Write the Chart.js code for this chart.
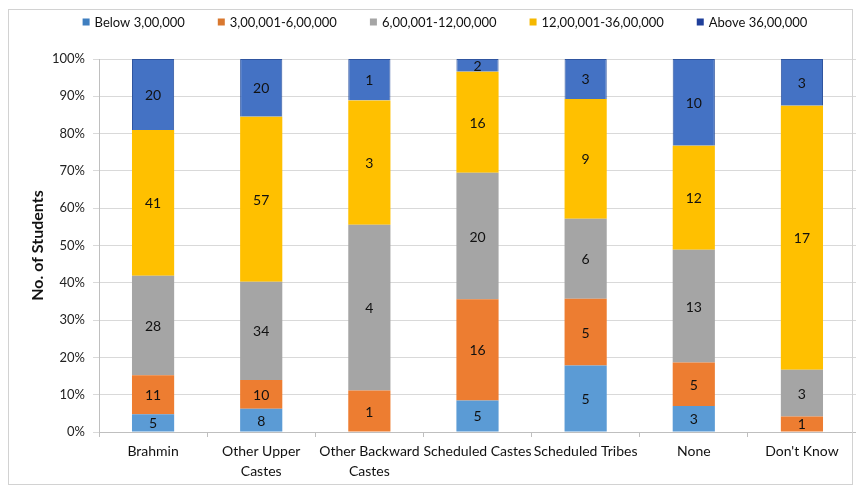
<!DOCTYPE html>
<html>
<head>
<meta charset="utf-8">
<script src="https://cdn.jsdelivr.net/npm/chart.js@4/dist/chart.umd.min.js"></script>
<style>
  html, body { margin: 0; padding: 0; background: #fff; }
  #wrap { position: relative; width: 856px; height: 489px; }
  #frame { position: absolute; left: 8px; top: 9px; width: 845px; height: 476px;
           border: 1px solid #d2d2d2; box-sizing: border-box; pointer-events: none; }
</style>
</head>
<body>
<div id="wrap">
  <canvas id="c" width="856" height="489"></canvas>
  <div id="frame"></div>
</div>
<script>
// Caste groups on the x axis (multi-line labels as arrays)
const categories = [
  ['Brahmin'],
  ['Other Upper', 'Castes'],
  ['Other Backward', 'Castes'],
  ['Scheduled Castes'],
  ['Scheduled Tribes'],
  ['None'],
  ["Don't Know"]
];

// Family income brackets
const seriesNames = ['Below 3,00,000', '3,00,001-6,00,000', '6,00,001-12,00,000', '12,00,001-36,00,000', 'Above 36,00,000'];

// Number of students in each income bracket, per caste group
const below3L     = [5, 8, 0, 5, 5, 3, 0];
const from3to6L   = [11, 10, 1, 16, 5, 5, 1];
const from6to12L  = [28, 34, 4, 20, 6, 13, 3];
const from12to36L = [41, 57, 3, 16, 9, 12, 17];
const above36L    = [20, 20, 1, 2, 3, 10, 3];

// Percentage axis ticks
const yTickValues = [0, 10, 20, 30, 40, 50, 60, 70, 80, 90, 100];

const seriesCounts = [below3L, from3to6L, from6to12L, from12to36L, above36L];
const fillColors   = ['#5b9bd5', '#ed7d31', '#a5a5a5', '#ffc000', '#4472c4'];
const edgeColors   = ['#5b9bd5', '#ed7d31', '#a5a5a5', '#ffc000', '#2f55a0'];
const legendColors = ['#3f7fc0', '#d9782f', '#a5a5a5', '#f5b800', '#1f3f9a'];

// Each bar is scaled to 100% of its group's students
const groupTotals = categories.map((_, j) => seriesCounts.reduce((s, arr) => s + arr[j], 0));

const datasets = seriesNames.map((name, i) => ({
  label: name,
  counts: seriesCounts[i],
  data: seriesCounts[i].map((v, j) => v / groupTotals[j] * 100),
  backgroundColor: fillColors[i],
  borderColor: edgeColors[i],
  borderWidth: i === 4 ? 1 : 0,
  barPercentage: 0.39,
  categoryPercentage: 1.0
}));

const FONT = 'Lato, "Open Sans", sans-serif';

// Writes the student count in the middle of each segment
const segmentLabels = {
  id: 'segmentLabels',
  afterDatasetsDraw(chart) {
    const ctx = chart.ctx;
    ctx.save();
    ctx.font = '14px ' + FONT;
    ctx.fillStyle = '#111';
    ctx.textAlign = 'center';
    ctx.textBaseline = 'middle';
    chart.data.datasets.forEach((ds, i) => {
      const meta = chart.getDatasetMeta(i);
      meta.data.forEach((bar, j) => {
        const n = ds.counts[j];
        if (!n) return;
        const p = bar.getProps(['x', 'y', 'base'], true);
        ctx.fillText(String(n), p.x, (p.y + p.base) / 2 + 1);
      });
    });
    ctx.restore();
  }
};

// Single-row legend above the plot
const topLegend = {
  id: 'topLegend',
  afterDraw(chart) {
    const ctx = chart.ctx;
    ctx.save();
    ctx.font = '13px ' + FONT;
    ctx.textBaseline = 'middle';
    const box = 7, gapText = 5, gapItem = 33;
    const widths = chart.data.datasets.map(ds => box + gapText + ctx.measureText(ds.label).width);
    const total = widths.reduce((a, b) => a + b, 0) + gapItem * (widths.length - 1);
    let x = 445 - total / 2;
    const cy = 22;
    chart.data.datasets.forEach((ds, i) => {
      ctx.fillStyle = legendColors[i];
      ctx.fillRect(x, cy - box / 2, box, box);
      ctx.fillStyle = '#111';
      ctx.textAlign = 'left';
      ctx.fillText(ds.label, x + box + gapText, cy + 1);
      x += widths[i] + gapItem;
    });
    ctx.restore();
  }
};

new Chart(document.getElementById('c'), {
  type: 'bar',
  data: { labels: categories, datasets },
  options: {
    responsive: false,
    animation: false,
    devicePixelRatio: 1,
    layout: { padding: { top: 59, right: 0, bottom: 0, left: 0 } },
    plugins: {
      legend: { display: false },
      tooltip: { enabled: false }
    },
    scales: {
      x: {
        stacked: true,
        grid: { display: true, drawOnChartArea: false, offset: true, tickLength: 5, color: '#bfbfbf' },
        border: { color: '#bfbfbf' },
        ticks: { color: '#111', font: { family: FONT, size: 14, lineHeight: 1.45 }, padding: 4, maxRotation: 0, autoSkip: false },
        afterFit(scale) { scale.height = 57; }
      },
      y: {
        stacked: true,
        min: 0,
        max: 100,
        afterBuildTicks(scale) { scale.ticks = yTickValues.map(v => ({ value: v })); },
        grid: { color: '#d9d9d9', tickLength: 6 },
        border: { color: '#bfbfbf' },
        ticks: { color: '#222', font: { family: FONT, size: 13 }, padding: 8, callback: v => v + '%' },
        title: { display: true, text: 'No. of Students', color: '#111',
                 font: { family: FONT, size: 16, weight: 'bold' }, padding: { top: 28, bottom: 0 } },
        afterFit(scale) { scale.width = 99; }
      }
    }
  },
  plugins: [segmentLabels, topLegend]
});
</script>
</body>
</html>
